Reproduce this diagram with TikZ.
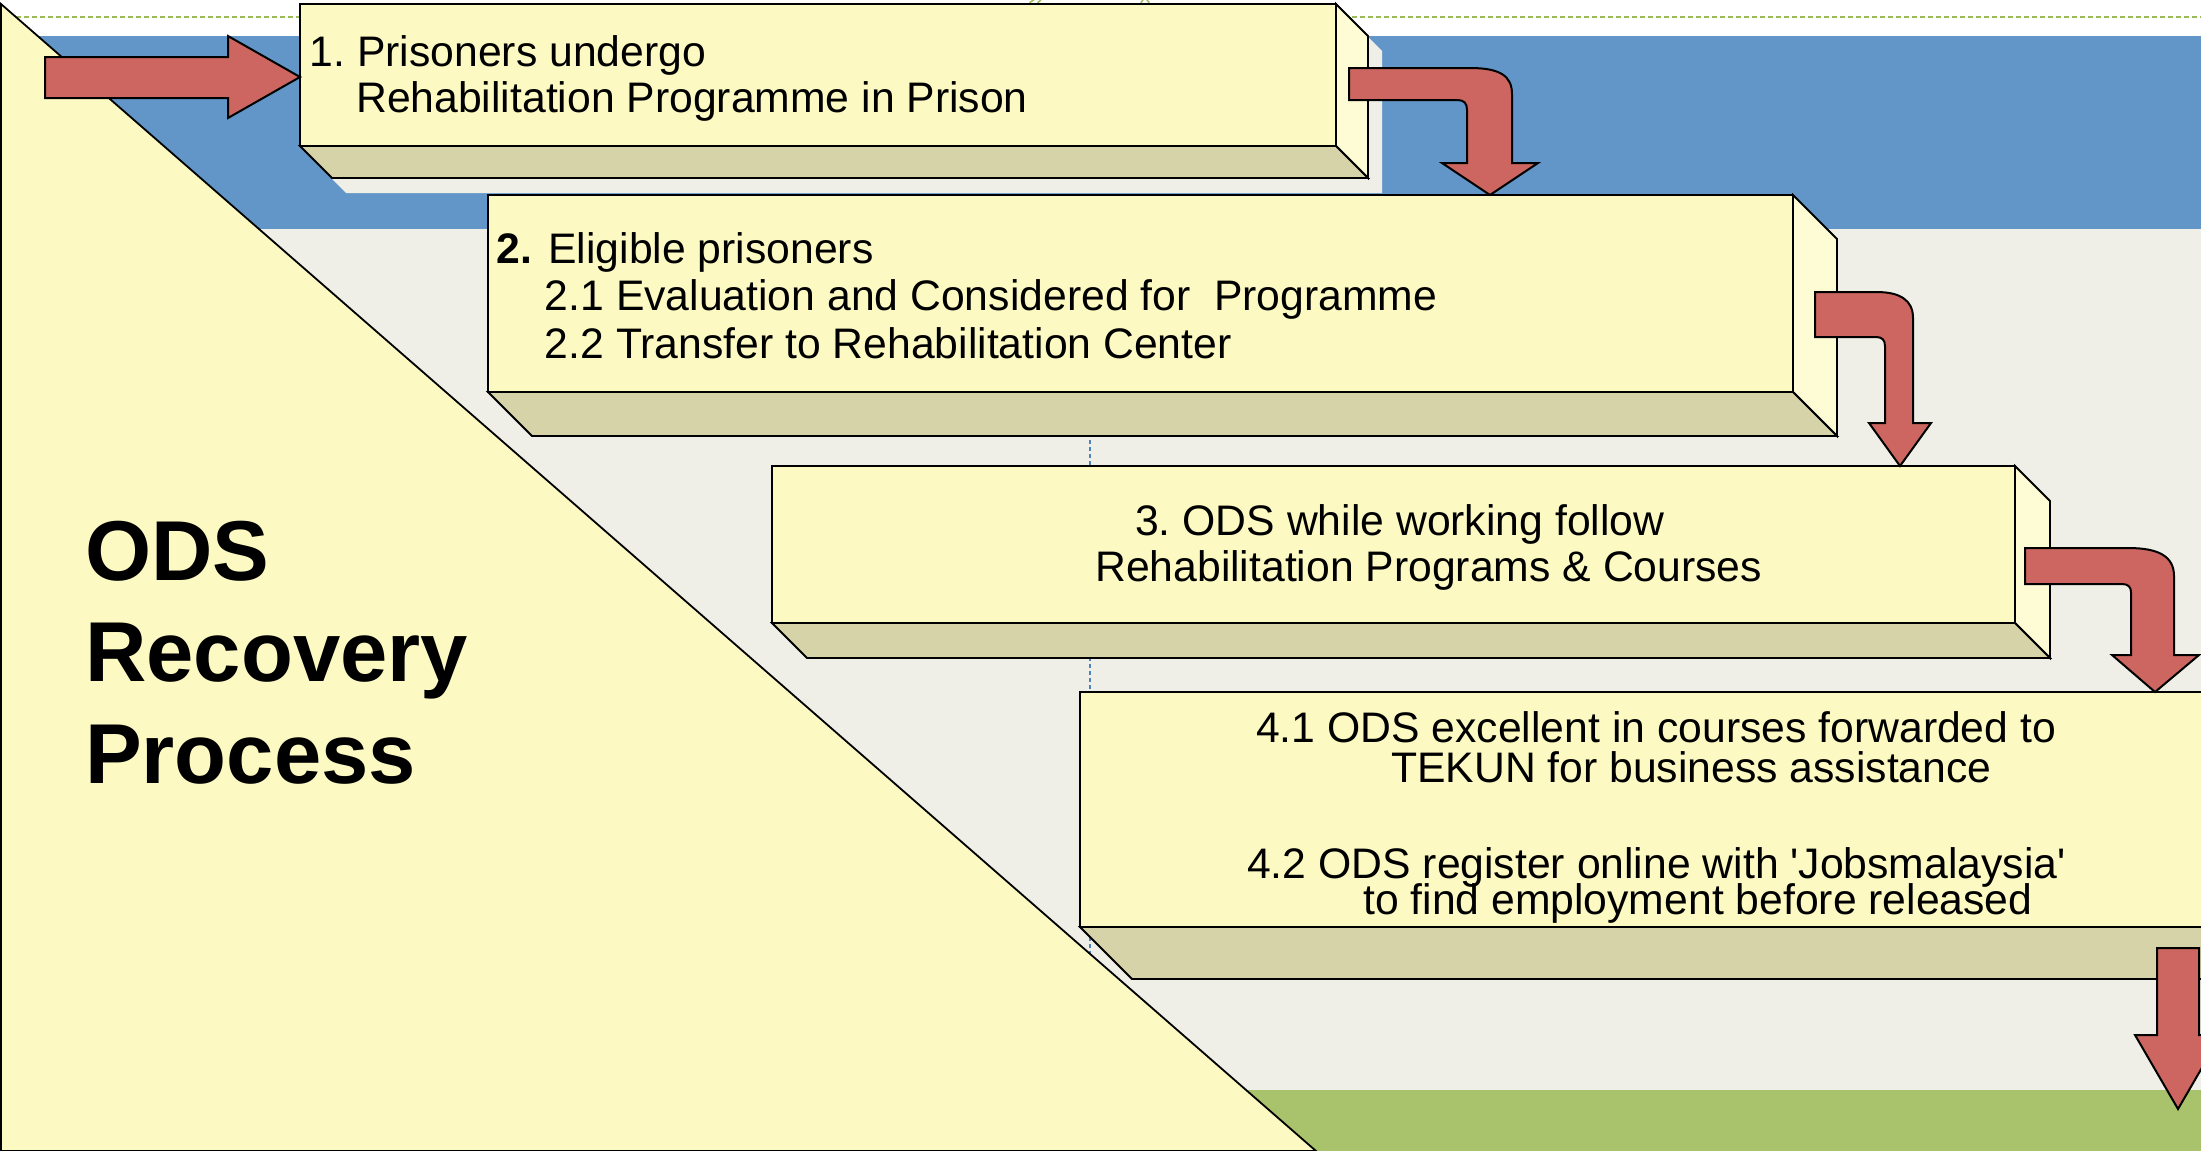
\documentclass[tikz,border=0pt]{standalone}
\usepackage{fontspec}
\setmainfont{Liberation Sans}
\usetikzlibrary{calc}

\definecolor{bandblue}{RGB}{98,150,200}
\definecolor{paper}{RGB}{239,239,231}
\definecolor{grass}{RGB}{169,195,108}
\definecolor{cream}{RGB}{252,250,194}
\definecolor{creamlight}{RGB}{253,252,212}
\definecolor{khaki}{RGB}{213,211,167}
\definecolor{brick}{RGB}{205,102,96}
\definecolor{dashgreen}{RGB}{155,187,89}
\definecolor{guideblue}{RGB}{79,129,189}

% side and bottom faces of a box node: #1 name, #2 depth
\newcommand{\slab}[2]{%
  \draw[sideface] (#1.north east) -- ++(#2,#2) -- ($(#1.south east)+(#2,#2)$) -- (#1.south east) -- cycle;
  \draw[bottomface] (#1.south west) -- (#1.south east) -- ++(#2,#2) -- ($(#1.south west)+(#2,#2)$) -- cycle;
}

\frenchspacing

\begin{document}
\begin{tikzpicture}[x=1pt,y=-1pt]
  \tikzstyle{front}=[draw,fill=cream,line width=1.8pt,inner sep=0pt,outer sep=0pt,anchor=north west]
  \tikzstyle{sideface}=[draw,fill=creamlight,line width=1.8pt]
  \tikzstyle{bottomface}=[draw,fill=khaki,line width=1.8pt]
  \tikzstyle{blockarrow}=[draw,fill=brick,line width=2pt,line join=miter]
  \tikzstyle{txt}=[anchor=base west,inner sep=0pt,font=\fontsize{42.7}{48}\selectfont]
  \tikzstyle{title}=[anchor=base west,inner sep=0pt,font=\fontsize{85}{100}\selectfont\bfseries]

  \useasboundingbox (0,0) rectangle (2201,1151);
  \clip (0,0) rectangle (2201,1151);

  % background bands
  \fill[white] (0,0) rectangle (2201,1151);
  \fill[bandblue] (0,36) rectangle (2201,229);
  \fill[paper] (0,229) rectangle (2201,1090);
  \fill[grass] (0,1090) rectangle (2201,1151);
  \draw[dashgreen,line width=1.5pt,dash pattern=on 5pt off 3pt] (0,17) -- (2201,17);
  \draw[dashgreen,line width=1.5pt] (1029,5) .. controls (1030,2) .. (1034,0);
  \draw[dashgreen,line width=1.5pt] (1037,5) .. controls (1038,2) .. (1041,0);
  \draw[dashgreen,line width=1.5pt] (1141,5) .. controls (1141,2) .. (1143,0);
  \draw[dashgreen,line width=1.5pt] (1149,5) .. controls (1149,2) .. (1147,0);
  \draw[guideblue,line width=1.2pt,dash pattern=on 4pt off 3pt] (1090,440) -- (1090,960);

  % shadow of the first box on the blue band
  \begin{scope}
    \clip (0,36) rectangle (2201,229);
    \fill[paper] (314,19) -- (1350,19) -- (1382,51) -- (1382,193) -- (346,193) -- (314,161) -- cycle;
  \end{scope}

  \draw[fill=cream,line width=1.8pt] (1,4) -- (1316,1151) -- (1,1151) -- cycle;

  % the four steps
  \node[front,minimum width=1036pt,minimum height=142pt] (prison) at (300,4) {};
  \slab{prison}{32}
  \node[front,minimum width=1305pt,minimum height=197pt] (eligible) at (488,195) {};
  \slab{eligible}{44}
  \node[front,minimum width=1243pt,minimum height=157pt] (working) at (772,466) {};
  \slab{working}{35}
  \node[front,minimum width=1300pt,minimum height=235pt] (release) at (1080,692) {};
  \slab{release}{52}

  % arrows
  \draw[blockarrow] (45,57) -- (228,57) -- (228,36) -- (prison.north west |- 0,77) -- (228,118) -- (228,98) -- (45,98) -- cycle;
  \draw[blockarrow] (1349,68) -- (1470,68) .. controls (1500,68) and (1512,76) .. (1512,94) -- (1512,163) -- (1538,163)
    -- (1490,0 |- eligible.north) -- (1442,163) -- (1467,163) -- (1467,110) .. controls (1467,103) and (1464,100) .. (1457,100)
    -- (1349,100) -- cycle;
  \draw[blockarrow] (1815,292) -- (1876,292) .. controls (1900,292) and (1913,300) .. (1913,318) -- (1913,423) -- (1931,423)
    -- (1900,0 |- working.north) -- (1869,423) -- (1885,423) -- (1885,346) .. controls (1885,340) and (1882,337) .. (1876,337)
    -- (1815,337) -- cycle;
  \draw[blockarrow] (2025,548) -- (2128,548) .. controls (2158,548) and (2174,556) .. (2174,576) -- (2174,655) -- (2199,655)
    -- (2155,0 |- release.north) -- (2112,655) -- (2131,655) -- (2131,592) .. controls (2131,587) and (2128,584) .. (2122,584)
    -- (2025,584) -- cycle;
  \draw[blockarrow] (2157,948) -- (2199,948) -- (2199,1035) -- (2221,1035) -- (2178,1109) -- (2135,1035) -- (2157,1035) -- cycle;

  % texts
  \node[title] (ods) at (85,580) {ODS};
  \node[title] (recovery) at (85,681) {Recovery};
  \node[title] (process) at (85,783) {Process};

  \node[txt] (step1a) at (309.5,66.7) {1. Prisoners undergo};
  \node[txt] (step1b) at (356,112.7) {Rehabilitation Programme in Prison};
  \node[txt] (step2a) at (496.7,263) {\textbf{2.}\hspace{4pt} Eligible prisoners};
  \node[txt] (step2b) at (544.7,310.7) {2.1 Evaluation and Considered for~ Programme};
  \node[txt] (step2c) at (544.7,358) {2.2 Transfer to Rehabilitation Center};
  \node[txt] (step3a) at (1135,535) {3. ODS while working follow};
  \node[txt] (step3b) at (1095,581) {Rehabilitation Programs \& Courses};
  \node[txt] (step4a) at (1256,742) {4.1 ODS excellent in courses forwarded to};
  \node[txt] (step4b) at (1391,782) {TEKUN for business assistance};
  \node[txt] (step4c) at (1247,878) {4.2 ODS register online with \textquotesingle Jobsmalaysia\textquotesingle};
  \node[txt] (step4d) at (1363,914) {to find employment before released};
\end{tikzpicture}
\end{document}
